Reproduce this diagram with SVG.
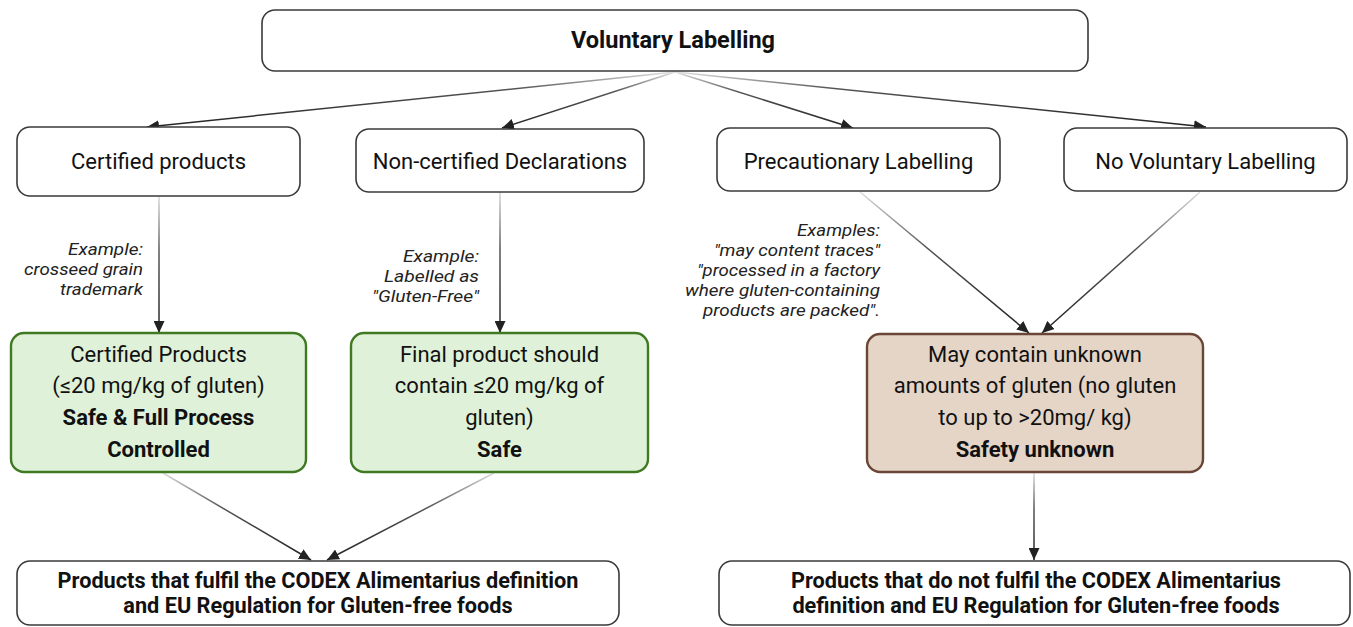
<svg xmlns="http://www.w3.org/2000/svg" width="1353" height="627" viewBox="0 0 1353 627">
<style>
.box{fill:#fff;stroke:#3a3a3a;stroke-width:1.6}
.green{fill:#dff1d8;stroke:#3f7a22;stroke-width:2.4}
.brown{fill:#e5d5c7;stroke:#6a4636;stroke-width:2.4}
text{font-family:Roboto,"Liberation Sans",sans-serif;fill:#111;text-anchor:middle}
.t{font-size:22px}
.b{font-size:22px;font-weight:bold}
.h{font-size:23.5px;font-weight:bold}
.bb{font-size:21.7px;font-weight:bold}
.i{font-size:16.8px;font-style:italic;text-anchor:end;fill:#222}
.c{fill:none;stroke-width:1.5}
</style>
<defs>
<marker id="ah" markerUnits="userSpaceOnUse" markerWidth="12" markerHeight="11" refX="12" refY="5.5" orient="auto">
<path d="M0,0 L12,5.5 L0,11 z" fill="#222"/>
</marker>
<linearGradient id="g1" gradientUnits="userSpaceOnUse" x1="675" y1="72" x2="147" y2="127"><stop offset="0" stop-color="#e2e2e2"/><stop offset="0.3" stop-color="#555"/><stop offset="1" stop-color="#222"/></linearGradient>
<linearGradient id="g2" gradientUnits="userSpaceOnUse" x1="675" y1="72" x2="502" y2="128"><stop offset="0" stop-color="#e2e2e2"/><stop offset="0.35" stop-color="#555"/><stop offset="1" stop-color="#222"/></linearGradient>
<linearGradient id="g3" gradientUnits="userSpaceOnUse" x1="675" y1="72" x2="853" y2="128"><stop offset="0" stop-color="#e2e2e2"/><stop offset="0.35" stop-color="#555"/><stop offset="1" stop-color="#222"/></linearGradient>
<linearGradient id="g4" gradientUnits="userSpaceOnUse" x1="675" y1="72" x2="1206" y2="127"><stop offset="0" stop-color="#e2e2e2"/><stop offset="0.3" stop-color="#555"/><stop offset="1" stop-color="#222"/></linearGradient>
<linearGradient id="g5" gradientUnits="userSpaceOnUse" x1="159" y1="197" x2="159" y2="333"><stop offset="0" stop-color="#d8d8d8"/><stop offset="0.4" stop-color="#555"/><stop offset="1" stop-color="#222"/></linearGradient>
<linearGradient id="g6" gradientUnits="userSpaceOnUse" x1="500" y1="192" x2="500" y2="333"><stop offset="0" stop-color="#d8d8d8"/><stop offset="0.4" stop-color="#555"/><stop offset="1" stop-color="#222"/></linearGradient>
<linearGradient id="g7" gradientUnits="userSpaceOnUse" x1="860" y1="192" x2="1029" y2="333"><stop offset="0" stop-color="#dcdcdc"/><stop offset="0.4" stop-color="#555"/><stop offset="1" stop-color="#222"/></linearGradient>
<linearGradient id="g8" gradientUnits="userSpaceOnUse" x1="1200" y1="192" x2="1042" y2="333"><stop offset="0" stop-color="#dcdcdc"/><stop offset="0.4" stop-color="#555"/><stop offset="1" stop-color="#222"/></linearGradient>
<linearGradient id="g9" gradientUnits="userSpaceOnUse" x1="163" y1="473" x2="311" y2="560"><stop offset="0" stop-color="#dcdcdc"/><stop offset="0.4" stop-color="#555"/><stop offset="1" stop-color="#222"/></linearGradient>
<linearGradient id="g10" gradientUnits="userSpaceOnUse" x1="494" y1="473" x2="327" y2="560"><stop offset="0" stop-color="#dcdcdc"/><stop offset="0.4" stop-color="#555"/><stop offset="1" stop-color="#222"/></linearGradient>
<linearGradient id="g11" gradientUnits="userSpaceOnUse" x1="1034" y1="473" x2="1034" y2="560"><stop offset="0" stop-color="#d8d8d8"/><stop offset="0.4" stop-color="#555"/><stop offset="1" stop-color="#222"/></linearGradient>
</defs>

<g id="connectors">
<line class="c" x1="675" y1="72" x2="147" y2="127" stroke="url(#g1)" marker-end="url(#ah)"/>
<line class="c" x1="675" y1="72" x2="502" y2="128" stroke="url(#g2)" marker-end="url(#ah)"/>
<line class="c" x1="675" y1="72" x2="853" y2="128" stroke="url(#g3)" marker-end="url(#ah)"/>
<line class="c" x1="675" y1="72" x2="1206" y2="127" stroke="url(#g4)" marker-end="url(#ah)"/>
<line class="c" x1="159" y1="197" x2="159" y2="333" stroke="url(#g5)" marker-end="url(#ah)"/>
<line class="c" x1="500" y1="192" x2="500" y2="333" stroke="url(#g6)" marker-end="url(#ah)"/>
<line class="c" x1="860" y1="192" x2="1029" y2="333" stroke="url(#g7)" marker-end="url(#ah)"/>
<line class="c" x1="1200" y1="192" x2="1042" y2="333" stroke="url(#g8)" marker-end="url(#ah)"/>
<line class="c" x1="163" y1="473" x2="311" y2="560" stroke="url(#g9)" marker-end="url(#ah)"/>
<line class="c" x1="494" y1="473" x2="327" y2="560" stroke="url(#g10)" marker-end="url(#ah)"/>
<line class="c" x1="1034" y1="473" x2="1034" y2="560" stroke="url(#g11)" marker-end="url(#ah)"/>
<text class="i" x="143" y="255" textLength="75" lengthAdjust="spacingAndGlyphs">Example:</text>
<text class="i" x="143" y="275" textLength="119" lengthAdjust="spacingAndGlyphs">crosseed grain</text>
<text class="i" x="143" y="295" textLength="83" lengthAdjust="spacingAndGlyphs">trademark</text>
<text class="i" x="479" y="262" textLength="76" lengthAdjust="spacingAndGlyphs">Example:</text>
<text class="i" x="479" y="282" textLength="95" lengthAdjust="spacingAndGlyphs">Labelled as</text>
<text class="i" x="479" y="302" textLength="107" lengthAdjust="spacingAndGlyphs">"Gluten-Free"</text>
<text class="i" x="880" y="236" textLength="83" lengthAdjust="spacingAndGlyphs">Examples:</text>
<text class="i" x="880" y="256" textLength="166" lengthAdjust="spacingAndGlyphs">"may content traces"</text>
<text class="i" x="880" y="276" textLength="183" lengthAdjust="spacingAndGlyphs">"processed in a factory</text>
<text class="i" x="880" y="296" textLength="195" lengthAdjust="spacingAndGlyphs">where gluten-containing</text>
<text class="i" x="880" y="316" textLength="177" lengthAdjust="spacingAndGlyphs">products are packed".</text>
</g>

<g id="voluntary">
<rect class="box" x="262" y="10" width="826" height="61" rx="13"/>
<text class="h" x="673" y="48">Voluntary Labelling</text>
</g>
<g id="certified">
<rect class="box" x="17" y="127" width="283" height="69" rx="13"/>
<text class="t" x="158.5" y="169">Certified products</text>
</g>
<g id="noncertified">
<rect class="box" x="356" y="129" width="288" height="63" rx="13"/>
<text class="t" x="500" y="169">Non-certified Declarations</text>
</g>
<g id="precautionary">
<rect class="box" x="717" y="128" width="283" height="63" rx="13"/>
<text class="t" x="858.5" y="169">Precautionary Labelling</text>
</g>
<g id="novoluntary">
<rect class="box" x="1064" y="128" width="283" height="63" rx="13"/>
<text class="t" x="1205.5" y="169">No Voluntary Labelling</text>
</g>
<g id="certifiedProducts">
<rect class="green" x="11" y="333" width="295" height="139" rx="13"/>
<text class="t" x="158.5" y="362">Certified Products</text>
<text class="t" x="158.5" y="393">(≤20 mg/kg of gluten)</text>
<text class="b" x="158.5" y="425">Safe &amp; Full Process</text>
<text class="b" x="158.5" y="457">Controlled</text>
</g>
<g id="finalProduct">
<rect class="green" x="351" y="333" width="297" height="139" rx="13"/>
<text class="t" x="499.5" y="362">Final product should</text>
<text class="t" x="499.5" y="393">contain ≤20 mg/kg of</text>
<text class="t" x="499.5" y="425">gluten)</text>
<text class="b" x="499.5" y="457">Safe</text>
</g>
<g id="unknown">
<rect class="brown" x="867" y="334" width="336" height="138" rx="13"/>
<text class="t" x="1035" y="362">May contain unknown</text>
<text class="t" x="1035" y="393">amounts of gluten (no gluten</text>
<text class="t" x="1035" y="425">to up to &gt;20mg/ kg)</text>
<text class="b" x="1035" y="457">Safety unknown</text>
</g>
<g id="fulfil">
<rect class="box" x="17" y="561" width="602" height="64" rx="13"/>
<text class="bb" x="318" y="588">Products that fulfil the CODEX Alimentarius definition</text>
<text class="bb" x="318" y="613">and EU Regulation for Gluten-free foods</text>
</g>
<g id="notfulfil">
<rect class="box" x="719" y="561" width="631" height="64" rx="13"/>
<text class="bb" x="1036" y="588">Products that do not fulfil the CODEX Alimentarius</text>
<text class="bb" x="1036" y="613">definition and EU Regulation for Gluten-free foods</text>
</g>
</svg>
